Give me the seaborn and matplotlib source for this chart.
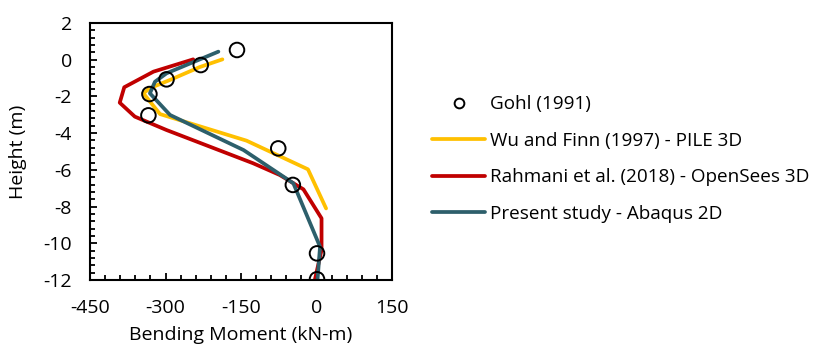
import numpy as np
import pandas as pd
import matplotlib
matplotlib.use('Agg')
import matplotlib.pyplot as plt
import seaborn as sns
from matplotlib.ticker import MultipleLocator
from matplotlib.lines import Line2D

# Gohl (1991) - medições
gohl_m = [-158, -230, -298, -332, -334, -76, -47, 1, 1]
gohl_h = [0.53, -0.29, -1.07, -1.87, -3.03, -4.83, -6.82, -10.55, -11.96]

# Wu and Finn (1997) - PILE 3D
wu_m = [-187, -232, -291, -331, -344, -311, -139, -17, 19]
wu_h = [0.02, -0.40, -1.10, -1.55, -1.83, -2.96, -4.41, -5.97, -8.10]

# Rahmani et al. (2018) - OpenSees 3D
rah_m = [-245, -324, -382, -391, -361, -298, -126, -73, -26, 10, 10, -3]
rah_h = [0.02, -0.65, -1.50, -2.34, -3.10, -3.83, -5.64, -6.28, -7.06, -8.64, -10.37, -11.96]

# Present study - Abaqus 2D
pre_m = [-195, -251, -298, -321, -331, -291, -145, -46, 7, 2]
pre_h = [0.44, -0.20, -0.74, -1.20, -1.83, -3.01, -4.92, -6.73, -10.19, -12.0]

labels = ['Gohl (1991)', 'Wu and Finn (1997) - PILE 3D',
          'Rahmani et al. (2018) - OpenSees 3D', 'Present study - Abaqus 2D']
cores = ['#FFC000', '#C00000', '#2D5F6B']

sns.set_style('white')
plt.rcParams['font.family'] = ['Open Sans', 'DejaVu Sans']
plt.rcParams['axes.unicode_minus'] = False
plt.rcParams['text.color'] = 'black'
plt.rcParams['axes.labelcolor'] = 'black'
plt.rcParams['xtick.color'] = 'black'
plt.rcParams['ytick.color'] = 'black'

fig = plt.figure(figsize=(8.23, 3.45), dpi=100)
ax = fig.add_axes([0.1094, 0.1884, 0.3669, 0.7449])

series = [(wu_m, wu_h), (rah_m, rah_h), (pre_m, pre_h)]
for (m, h), c, lab in zip(series, cores, labels[1:]):
    sns.lineplot(x=m, y=h, sort=False, estimator=None, color=c, lw=2.7,
                 ax=ax, label=lab, legend=False)

sns.scatterplot(x=gohl_m, y=gohl_h, s=110, facecolor='none', edgecolor='black',
                linewidth=1.4, ax=ax, zorder=5, label=labels[0], legend=False)

ax.set_xlim(-450, 150)
ax.set_ylim(-12, 2)
ax.xaxis.set_major_locator(MultipleLocator(150))
ax.xaxis.set_minor_locator(MultipleLocator(30))
ax.yaxis.set_major_locator(MultipleLocator(2))
ax.yaxis.set_minor_locator(MultipleLocator(0.4))
ax.tick_params(which='both', direction='in', color='black', labelsize=14,
               bottom=True, left=True, top=False, right=False)
ax.tick_params(which='major', length=5, width=1.3)
ax.tick_params(which='minor', length=3.5, width=1.3)
ax.tick_params(axis='x', pad=14)
ax.tick_params(axis='y', pad=13)
for s in ax.spines.values():
    s.set_color('black')
    s.set_linewidth(1.5)

ax.set_xlabel('Bending Moment (kN-m)', fontsize=14, labelpad=6)
ax.set_ylabel('Height (m)', fontsize=14, labelpad=12)

# Legenda fora do gráfico
handles = [Line2D([], [], ls='none', marker='o', mfc='none', mec='black', ms=7, mew=1.4)]
handles += [Line2D([], [], color=c, lw=2.7) for c in cores]
fig.legend(handles, labels, loc='upper left', bbox_to_anchor=(0.525, 0.724),
           frameon=False, fontsize=13.6, handlelength=2.8, handletextpad=0.25,
           labelspacing=0.98, borderpad=0, borderaxespad=0)

plt.savefig('out.png', dpi=100)
